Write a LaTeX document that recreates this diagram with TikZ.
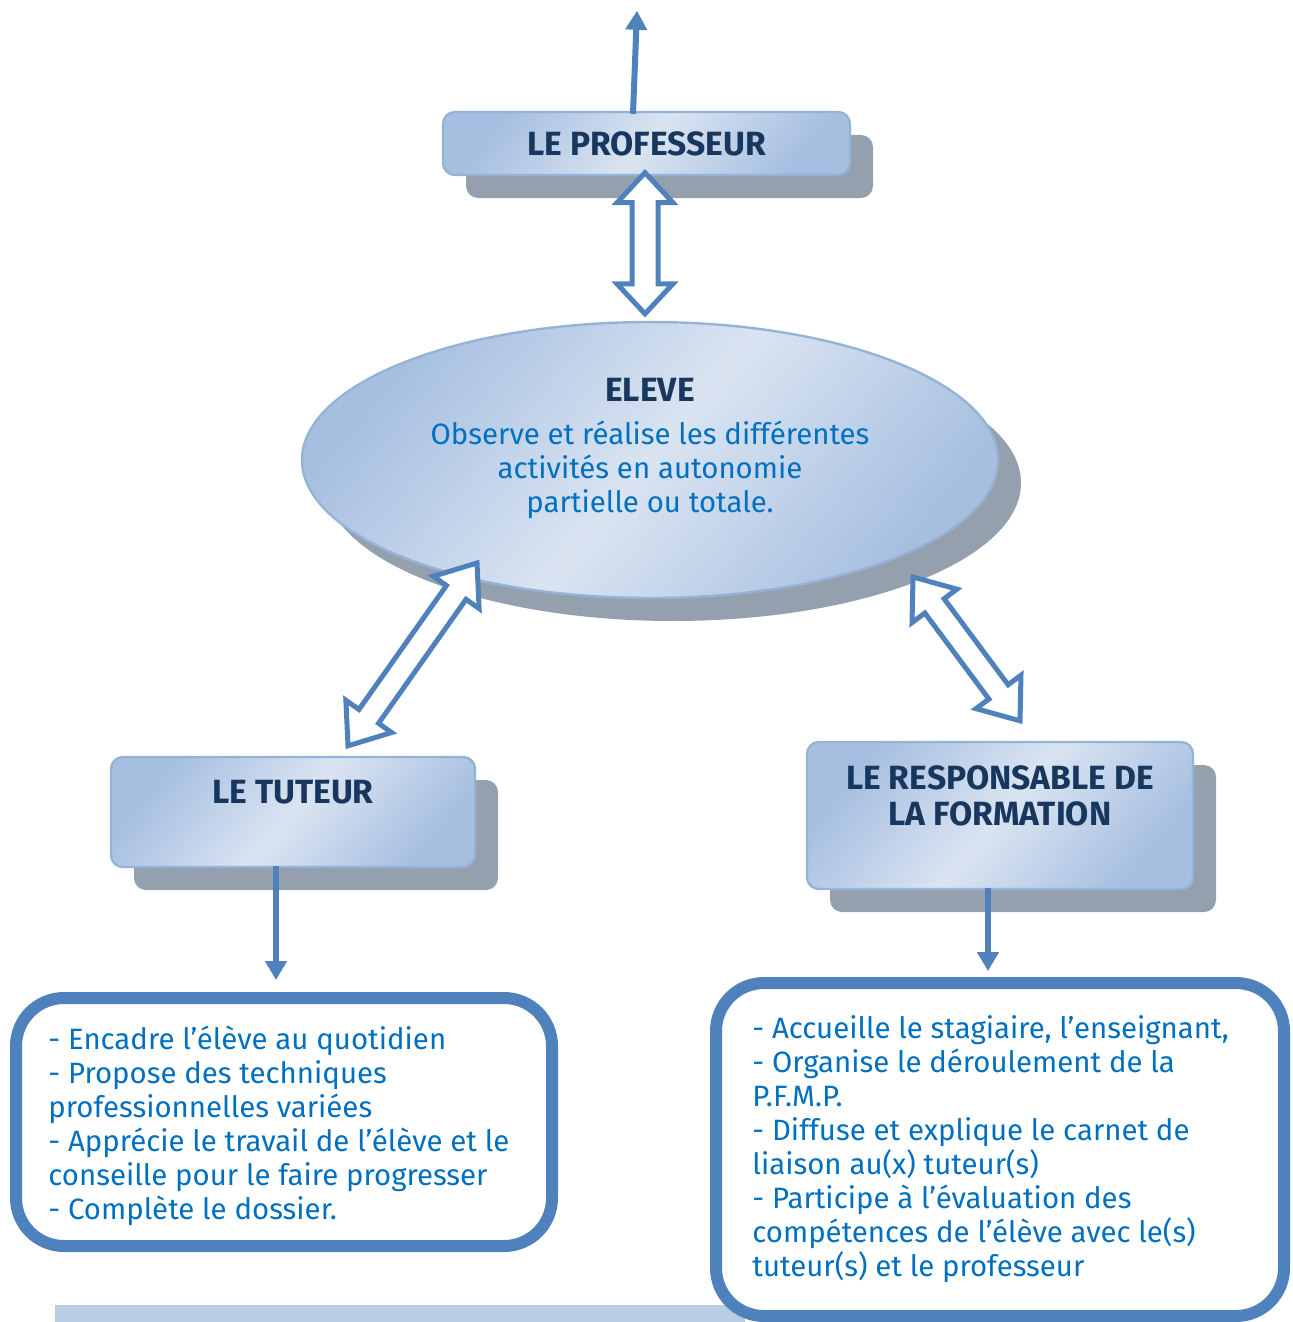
\documentclass[tikz,border=0pt]{standalone}
\usepackage{fontspec}
\setmainfont{Fira Sans}
\usetikzlibrary{calc,shapes.geometric,arrows.meta,shadows}
\definecolor{navy}{HTML}{17375E}
\definecolor{txtblue}{HTML}{0070C0}
\definecolor{arrblue}{HTML}{4F81BD}
\definecolor{shadowgray}{HTML}{95A0AE}
\definecolor{boxlight}{HTML}{DAE4F1}
\definecolor{boxmid}{HTML}{A6BFE0}
\definecolor{boxedge}{HTML}{95B3D7}
\definecolor{barblue}{HTML}{B8CCE4}
\newcommand\dblarr[5]{%
  \path ($(#1)!#3!(#2)$) coordinate (h1) ($(#2)!#3!(#1)$) coordinate (h2);
  \draw[dblarrow] (#1) -- ($(h1)!#4!90:(#2)$) -- ($(h1)!#5!90:(#2)$) -- ($(h2)!#5!-90:(#1)$)
    -- ($(h2)!#4!-90:(#1)$) -- (#2) -- ($(h2)!#4!90:(#1)$) -- ($(h2)!#5!90:(#1)$)
    -- ($(h1)!#5!-90:(#2)$) -- ($(h1)!#4!-90:(#2)$) -- cycle;}
\begin{document}
\begin{tikzpicture}[x=0.5pt,y=-0.5pt,
  glass/.style={draw=boxedge, line width=1.2pt, top color=boxmid, bottom color=boxmid,
     middle color=boxlight, shading angle=50},
  shadowed/.style={drop shadow={fill=shadowgray, opacity=1, shadow xshift=11.5pt, shadow yshift=-11.5pt}},
  titlebox/.style={glass, shadowed, rectangle, rounded corners=6pt, inner sep=0pt},
  title/.style={font=\fontsize{16.8}{18}\selectfont\bfseries, text=navy},
  bodytxt/.style={font=\fontsize{14.7}{17}\selectfont, text=txtblue},
  listbox/.style={draw=arrblue, line width=6pt, fill=white, rounded corners=24pt, inner sep=0pt},
  dblarrow/.style={draw=arrblue, line width=2.5pt, fill=white, line join=miter},
  thinarrow/.style={draw=arrblue, line width=3pt, -{Triangle[width=10.5pt,length=9.5pt]}}]
\useasboundingbox (0,0) rectangle (1292,1322);
\clip (0,0) rectangle (1292,1322);

% bottom light bar
\fill[barblue] (55,1305) rectangle (745,1322);

% boxes
\node[titlebox, minimum width=203.5pt, minimum height=31.5pt, title] (prof) at (646.5,143.5) {LE PROFESSEUR};

\node[glass, shadowed, ellipse, minimum width=348pt, minimum height=138pt, inner sep=0pt] (eleve) at (650,460) {};
\node[title, anchor=north, inner sep=0pt] (elevetitle) at (650,378) {ELEVE};
\node[bodytxt, anchor=north, align=center, inner sep=0pt] (elevetxt) at (650,421)
  {Observe et réalise les différentes\\activités en autonomie\\partielle ou totale.};

\node[titlebox, minimum width=182pt, minimum height=55pt] (tut) at (293,812) {};
\node[title, anchor=north, inner sep=0pt] (tuttitle) at (293,780) {LE TUTEUR};

\node[titlebox, minimum width=193pt, minimum height=73.5pt] (resp) at (1000,815.5) {};
\node[title, anchor=north, inner sep=0pt, align=center] (resptitle) at (1000,765) {LE RESPONSABLE DE\\LA FORMATION};

\node[listbox, minimum width=268pt, minimum height=124pt] (tutlist) at (284,1122) {};
\node[bodytxt, anchor=north west, align=left, inner sep=0pt] (tuttxt) at (48,1025.5)
  {- Encadre l’élève au quotidien\\- Propose des techniques\\professionnelles variées\\- Apprécie le travail de l’élève et le\\conseille pour le faire progresser\\- Complète le dossier.};

\node[listbox, minimum width=284pt, minimum height=166.5pt] (resplist) at (1000,1149.5) {};
\node[bodytxt, anchor=north west, align=left, inner sep=0pt] (resptxt) at (752,1015.5)
  {- Accueille le stagiaire, l’enseignant,\\- Organise le déroulement de la\\P.F.M.P.\\- Diffuse et explique le carnet de\\liaison au(x) tuteur(s)\\- Participe à l’évaluation des\\compétences de l’élève avec le(s)\\tuteur(s) et le professeur};

% connectors
\coordinate (topend) at ($(prof.north)+(-9.5,-100)$);
\draw[thinarrow] ($(prof.north)+(-13.5,3)$) -- (topend);
\draw[thinarrow] ($(tut.south)+(-17,-2)$) -- ($(tutlist.north)+(-8,-12)$);
\draw[thinarrow] ($(resp.south)+(-12,-2)$) -- ($(resplist.north)+(-12,-6)$);

\coordinate (a1) at ($(prof.south)+(-1.5,-3.5)$);
\coordinate (a2) at ($(eleve.north)+(-5,-7)$);
\dblarr{a1}{a2}{15pt}{14pt}{6.5pt}
\coordinate (b1) at ($(eleve.center)+(-173,103)$);
\coordinate (b2) at ($(tut.north)+(55,-10)$);
\dblarr{b1}{b2}{18pt}{14pt}{6pt}
\coordinate (c1) at ($(eleve.center)+(263,117)$);
\coordinate (c2) at ($(resp.north)+(20,-20)$);
\dblarr{c1}{c2}{18pt}{14pt}{6pt}
\end{tikzpicture}
\end{document}
